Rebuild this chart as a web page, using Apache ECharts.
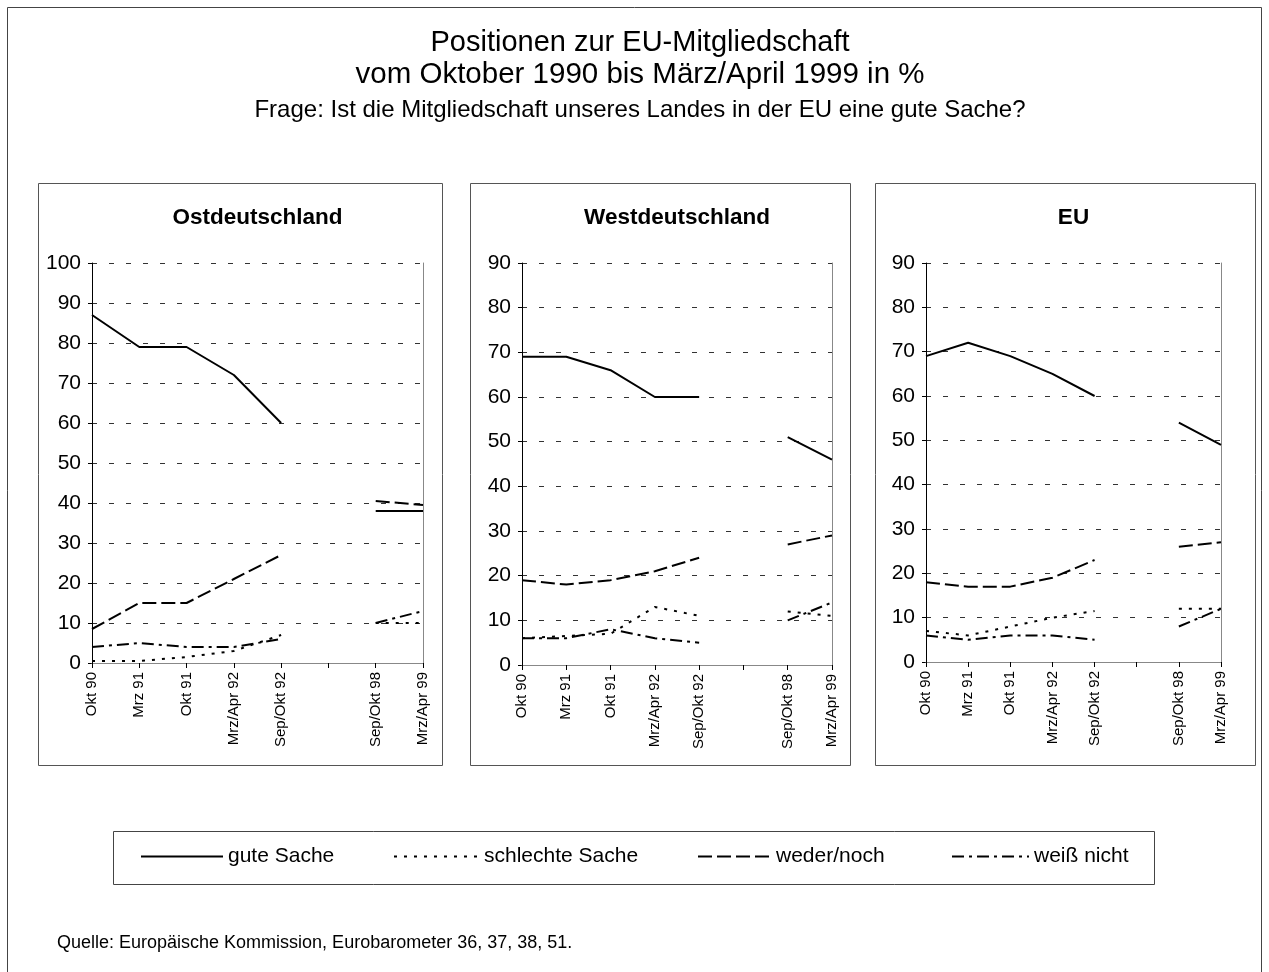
<!DOCTYPE html>
<html>
<head>
<meta charset="utf-8">
<script src="https://cdn.jsdelivr.net/npm/echarts@6/dist/echarts.min.js"></script>
<style>
html,body{margin:0;padding:0;background:#fff;}
#chart{width:1269px;height:972px;}
</style>
</head>
<body>
<div id="chart"></div>
<script>
// ---- data ----
const categories = ['Okt 90', 'Mrz 91', 'Okt 91', 'Mrz/Apr 92', 'Sep/Okt 92', '', 'Sep/Okt 98', 'Mrz/Apr 99'];
const seriesNames = ['gute Sache', 'schlechte Sache', 'weder/noch', 'weiß nicht'];
const panelTitles = ['Ostdeutschland', 'Westdeutschland', 'EU'];
const yMax = [100, 90, 90];

const ostGut      = [87, 79, 79, 72, 60, null, 38, 38];
const ostSchlecht = [0.5, 0.5, 1.5, 3, 7, null, 10, 10];
const ostWeder    = [8.5, 15, 15, 21, 27, null, 40.5, 39.5];
const ostWeiss    = [4, 5, 4, 4, 6, null, 10, 13];

const westGut      = [69, 69, 66, 60, 60, null, 51, 46];
const westSchlecht = [6, 6.5, 7, 13, 11, null, 12, 11];
const westWeder    = [19, 18, 19, 21, 24, null, 27, 29];
const westWeiss    = [6, 6, 8, 6, 5, null, 10, 14];

const euGut      = [69, 72, 69, 65, 60, null, 54, 49];
const euSchlecht = [7, 6, 8, 10, 11.5, null, 12, 12];
const euWeder    = [18, 17, 17, 19, 23, null, 26, 27];
const euWeiss    = [6, 5, 6, 6, 5, null, 8, 12];

const panelData = [
  [ostGut, ostSchlecht, ostWeder, ostWeiss],
  [westGut, westSchlecht, westWeder, westWeiss],
  [euGut, euSchlecht, euWeder, euWeiss]
];

// ---- styling ----
const FONT = '"Liberation Sans", Arial, Helvetica, sans-serif';
const lineTypes = ['solid', [3, 7], [14, 5], [12, 5, 3, 5]];
const grids = [
  {left: 92, top: 263, width: 331, height: 400},
  {left: 522, top: 263, width: 310, height: 402},
  {left: 926, top: 263, width: 295, height: 399}
];
const frames = [[38, 183, 404, 582], [470, 183, 380, 582], [875, 183, 380, 582]];

const xAxes = [], yAxes = [], series = [];
grids.forEach((g, i) => {
  xAxes.push({
    type: 'category', gridIndex: i, data: categories, boundaryGap: false,
    axisLine: {lineStyle: {color: '#000', width: 1}},
    axisTick: {show: true, interval: 0, length: 5, lineStyle: {color: '#000'}},
    axisLabel: {interval: 0, rotate: 90, fontSize: 15, color: '#000', margin: 9, fontFamily: FONT},
    splitLine: {show: false}, z: 3
  });
  xAxes.push({
    type: 'value', gridIndex: i, position: 'top', min: 0, max: 1,
    axisLine: {show: true, lineStyle: {color: '#888', width: 1}},
    axisTick: {show: false}, axisLabel: {show: false}, splitLine: {show: false}, z: 3
  });
  yAxes.push({
    type: 'value', gridIndex: i, min: 0, max: yMax[i], interval: 10,
    axisLine: {show: true, lineStyle: {color: '#000', width: 1}},
    axisTick: {show: true, length: 4, lineStyle: {color: '#000'}},
    axisLabel: {fontSize: 21, color: '#000', margin: 11, fontFamily: FONT},
    splitLine: {show: true, lineStyle: {type: [5, 12], color: '#333', width: 1}}
  });
  yAxes.push({
    type: 'value', gridIndex: i, position: 'right', min: 0, max: 1,
    axisLine: {show: true, lineStyle: {color: '#888', width: 1}},
    axisTick: {show: false}, axisLabel: {show: false}, splitLine: {show: false}, z: 3
  });
  panelData[i].forEach((d, k) => {
    series.push({
      type: 'line', name: seriesNames[k], xAxisIndex: 2 * i, yAxisIndex: 2 * i,
      data: d, symbol: 'none', connectNulls: false, z: 4,
      lineStyle: {color: '#000', width: 2, type: lineTypes[k]},
      itemStyle: {color: '#000'}
    });
  });
});

const legendPos = [
  {left: 140, w: 82},
  {left: 393, w: 85},
  {left: 697, w: 73},
  {left: 951, w: 77}
];
const legends = seriesNames.map((n, k) => ({
  data: [n], left: legendPos[k].left, top: 846, itemWidth: legendPos[k].w, itemHeight: 14,
  selectedMode: false, padding: 0, itemGap: 0,
  itemStyle: {color: 'rgba(0,0,0,0)', borderColor: 'rgba(0,0,0,0)', borderWidth: 0, opacity: 0},
  textStyle: {fontSize: 21, color: '#000', fontFamily: FONT}
}));

const graphics = [
  {type: 'rect', shape: {x: 7.5, y: 7.5, width: 1254, height: 1000}, style: {fill: 'none', stroke: '#444', lineWidth: 1}, silent: true},
  {type: 'rect', shape: {x: 113.5, y: 831.5, width: 1041, height: 53}, style: {fill: 'none', stroke: '#444', lineWidth: 1}, silent: true},
  {type: 'text', x: 640, y: 43, style: {text: 'Positionen zur EU-Mitgliedschaft', font: '29px ' + FONT, fill: '#000', textAlign: 'center', textVerticalAlign: 'middle'}},
  {type: 'text', x: 640, y: 75, style: {text: 'vom Oktober 1990 bis März/April 1999 in %', font: '29.5px ' + FONT, fill: '#000', textAlign: 'center', textVerticalAlign: 'middle'}},
  {type: 'text', x: 640, y: 110, style: {text: 'Frage: Ist die Mitgliedschaft unseres Landes in der EU eine gute Sache?', font: '24px ' + FONT, fill: '#000', textAlign: 'center', textVerticalAlign: 'middle'}},
  {type: 'text', x: 57, y: 943, style: {text: 'Quelle: Europäische Kommission, Eurobarometer 36, 37, 38, 51.', font: '18px ' + FONT, fill: '#000', textAlign: 'left', textVerticalAlign: 'middle'}}
];
frames.forEach((f, i) => {
  graphics.push({type: 'rect', shape: {x: f[0] + 0.5, y: f[1] + 0.5, width: f[2], height: f[3]}, style: {fill: 'none', stroke: '#555', lineWidth: 1}, silent: true});
  const g = grids[i];
  graphics.push({type: 'text', x: g.left + g.width / 2, y: 218, style: {text: panelTitles[i], font: 'bold 22.5px ' + FONT, fill: '#000', textAlign: 'center', textVerticalAlign: 'middle'}});
});

const chart = echarts.init(document.getElementById('chart'), null, {renderer: 'canvas'});
chart.setOption({
  animation: false,
  backgroundColor: '#fff',
  textStyle: {fontFamily: FONT},
  grid: grids,
  xAxis: xAxes,
  yAxis: yAxes,
  legend: legends,
  series: series,
  graphic: graphics
});
</script>
</body>
</html>
